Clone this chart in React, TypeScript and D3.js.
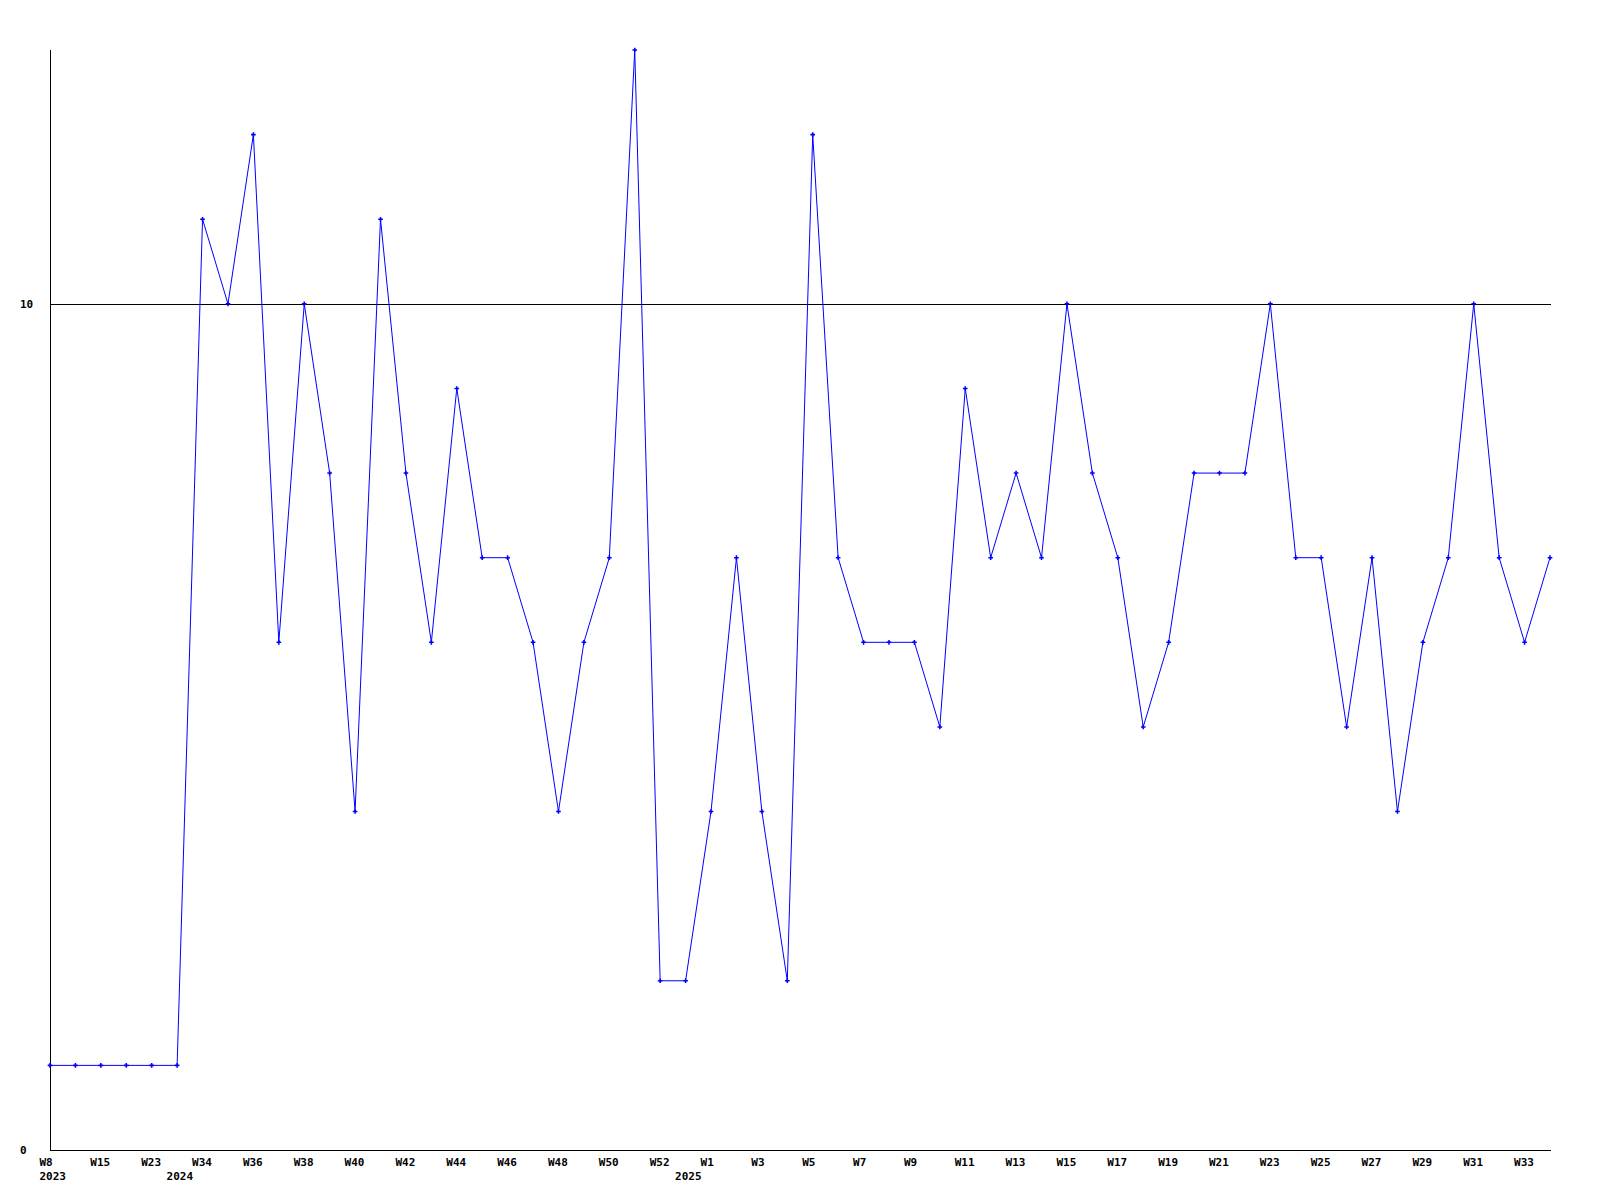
import * as d3 from 'd3';
import React, { useEffect, useRef } from 'react';

const values: number[] = [
  1, 1, 1, 1, 1, 1, 11, 10, 12, 6,
  10, 8, 4, 11, 8, 6, 9, 7, 7, 6,
  4, 6, 7, 13, 2, 2, 4, 7, 4, 2,
  12, 7, 6, 6, 6, 5, 9, 7, 8, 7,
  10, 8, 7, 5, 6, 8, 8, 8, 10, 7,
  7, 5, 7, 4, 6, 7, 10, 7, 6, 7,
];

// week labels on every other point
const weekLabels: string[] = [
  'W8', 'W15', 'W23', 'W34', 'W36', 'W38', 'W40', 'W42', 'W44', 'W46',
  'W48', 'W50', 'W52', 'W1', 'W3', 'W5', 'W7', 'W9', 'W11', 'W13',
  'W15', 'W17', 'W19', 'W21', 'W23', 'W25', 'W27', 'W29', 'W31', 'W33',
];

const yearLabels: { index: number; label: string }[] = [
  { index: 0, label: '2023' },
  { index: 5, label: '2024' },
  { index: 25, label: '2025' },
];

const yTicks: number[] = [0, 10];

export default function App() {
  const ref = useRef<SVGSVGElement>(null);

  useEffect(() => {
    const svg = d3.select(ref.current);
    svg.selectAll('*').remove();

    const x = d3.scaleLinear().domain([0, values.length - 1]).range([50, 1550]);
    const y = d3.scaleLinear().domain([0, 13]).range([1150, 50]);
    const font = "'DejaVu Sans Mono', monospace";

    // reference line at 10
    svg.append('line')
      .attr('x1', 50).attr('x2', 1551)
      .attr('y1', Math.round(y(10)) + 0.5).attr('y2', Math.round(y(10)) + 0.5)
      .attr('stroke', '#000').attr('stroke-width', 1);

    // axes
    svg.append('line')
      .attr('x1', 50.5).attr('x2', 50.5)
      .attr('y1', 50).attr('y2', y(0) + 1)
      .attr('stroke', '#000').attr('stroke-width', 1);
    svg.append('line')
      .attr('x1', 50).attr('x2', 1551)
      .attr('y1', y(0) + 0.5).attr('y2', y(0) + 0.5)
      .attr('stroke', '#000').attr('stroke-width', 1);

    svg.selectAll('text.ytick')
      .data(yTicks)
      .join('text')
      .attr('class', 'ytick')
      .attr('x', 20)
      .attr('y', d => y(d) + 4)
      .attr('font-family', font)
      .attr('font-weight', 'bold')
      .attr('font-size', 11)
      .text(d => String(d));

    svg.selectAll('text.week')
      .data(weekLabels)
      .join('text')
      .attr('class', 'week')
      .attr('x', (_, i) => x(i * 2) - 10.5)
      .attr('y', 1166)
      .attr('font-family', font)
      .attr('font-weight', 'bold')
      .attr('font-size', 11)
      .text(d => d);

    svg.selectAll('text.year')
      .data(yearLabels)
      .join('text')
      .attr('class', 'year')
      .attr('x', d => x(d.index) - 10.5)
      .attr('y', 1180)
      .attr('font-family', font)
      .attr('font-weight', 'bold')
      .attr('font-size', 11)
      .text(d => d.label);

    const line = d3.line<number>()
      .x((_, i) => x(i))
      .y(d => y(d));

    svg.append('path')
      .datum(values)
      .attr('d', line)
      .attr('fill', 'none')
      .attr('stroke', '#0000ff')
      .attr('stroke-width', 1);

    svg.selectAll('path.marker')
      .data(values)
      .join('path')
      .attr('class', 'marker')
      .attr('d', d3.symbol().type(d3.symbolCross).size(12))
      .attr('transform', (d, i) => `translate(${x(i)},${y(d)})`)
      .attr('fill', '#0000ff');
  }, []);

  return (
    <svg
      ref={ref}
      width={1600}
      height={1200}
      style={{ position: 'absolute', left: 0, top: 0, background: '#fff' }}
    />
  );
}
